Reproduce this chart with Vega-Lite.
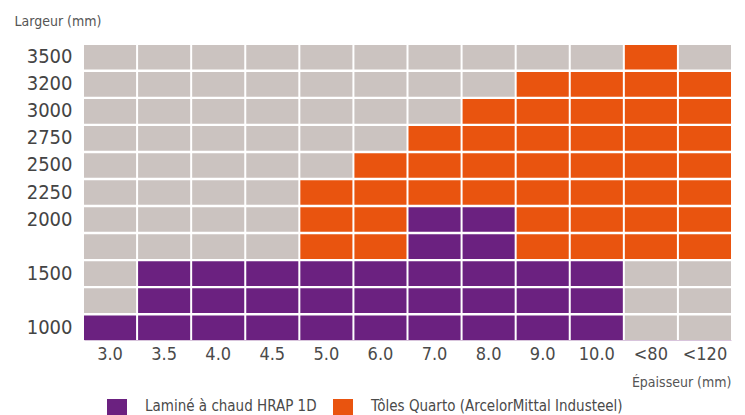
{
  "$schema": "https://vega.github.io/schema/vega-lite/v6.json",
  "autosize": "none",
  "width": 647,
  "height": 295,
  "padding": {"left": 84, "top": 45, "right": 14, "bottom": 75},
  "background": "white",
  "config": {"font": "DejaVu Sans Condensed", "view": {"stroke": null}},
  "data": {"values": [
    {"e":"3.0","l":"3500","p":"N"},{"e":"3.5","l":"3500","p":"N"},{"e":"4.0","l":"3500","p":"N"},{"e":"4.5","l":"3500","p":"N"},{"e":"5.0","l":"3500","p":"N"},{"e":"6.0","l":"3500","p":"N"},{"e":"7.0","l":"3500","p":"N"},{"e":"8.0","l":"3500","p":"N"},{"e":"9.0","l":"3500","p":"N"},{"e":"10.0","l":"3500","p":"N"},{"e":"<80","l":"3500","p":"Q"},{"e":"<120","l":"3500","p":"N"},
    {"e":"3.0","l":"3200","p":"N"},{"e":"3.5","l":"3200","p":"N"},{"e":"4.0","l":"3200","p":"N"},{"e":"4.5","l":"3200","p":"N"},{"e":"5.0","l":"3200","p":"N"},{"e":"6.0","l":"3200","p":"N"},{"e":"7.0","l":"3200","p":"N"},{"e":"8.0","l":"3200","p":"N"},{"e":"9.0","l":"3200","p":"Q"},{"e":"10.0","l":"3200","p":"Q"},{"e":"<80","l":"3200","p":"Q"},{"e":"<120","l":"3200","p":"Q"},
    {"e":"3.0","l":"3000","p":"N"},{"e":"3.5","l":"3000","p":"N"},{"e":"4.0","l":"3000","p":"N"},{"e":"4.5","l":"3000","p":"N"},{"e":"5.0","l":"3000","p":"N"},{"e":"6.0","l":"3000","p":"N"},{"e":"7.0","l":"3000","p":"N"},{"e":"8.0","l":"3000","p":"Q"},{"e":"9.0","l":"3000","p":"Q"},{"e":"10.0","l":"3000","p":"Q"},{"e":"<80","l":"3000","p":"Q"},{"e":"<120","l":"3000","p":"Q"},
    {"e":"3.0","l":"2750","p":"N"},{"e":"3.5","l":"2750","p":"N"},{"e":"4.0","l":"2750","p":"N"},{"e":"4.5","l":"2750","p":"N"},{"e":"5.0","l":"2750","p":"N"},{"e":"6.0","l":"2750","p":"N"},{"e":"7.0","l":"2750","p":"Q"},{"e":"8.0","l":"2750","p":"Q"},{"e":"9.0","l":"2750","p":"Q"},{"e":"10.0","l":"2750","p":"Q"},{"e":"<80","l":"2750","p":"Q"},{"e":"<120","l":"2750","p":"Q"},
    {"e":"3.0","l":"2500","p":"N"},{"e":"3.5","l":"2500","p":"N"},{"e":"4.0","l":"2500","p":"N"},{"e":"4.5","l":"2500","p":"N"},{"e":"5.0","l":"2500","p":"N"},{"e":"6.0","l":"2500","p":"Q"},{"e":"7.0","l":"2500","p":"Q"},{"e":"8.0","l":"2500","p":"Q"},{"e":"9.0","l":"2500","p":"Q"},{"e":"10.0","l":"2500","p":"Q"},{"e":"<80","l":"2500","p":"Q"},{"e":"<120","l":"2500","p":"Q"},
    {"e":"3.0","l":"2250","p":"N"},{"e":"3.5","l":"2250","p":"N"},{"e":"4.0","l":"2250","p":"N"},{"e":"4.5","l":"2250","p":"N"},{"e":"5.0","l":"2250","p":"Q"},{"e":"6.0","l":"2250","p":"Q"},{"e":"7.0","l":"2250","p":"Q"},{"e":"8.0","l":"2250","p":"Q"},{"e":"9.0","l":"2250","p":"Q"},{"e":"10.0","l":"2250","p":"Q"},{"e":"<80","l":"2250","p":"Q"},{"e":"<120","l":"2250","p":"Q"},
    {"e":"3.0","l":"2000","p":"N"},{"e":"3.5","l":"2000","p":"N"},{"e":"4.0","l":"2000","p":"N"},{"e":"4.5","l":"2000","p":"N"},{"e":"5.0","l":"2000","p":"Q"},{"e":"6.0","l":"2000","p":"Q"},{"e":"7.0","l":"2000","p":"H"},{"e":"8.0","l":"2000","p":"H"},{"e":"9.0","l":"2000","p":"Q"},{"e":"10.0","l":"2000","p":"Q"},{"e":"<80","l":"2000","p":"Q"},{"e":"<120","l":"2000","p":"Q"},
    {"e":"3.0","l":"1750","p":"N"},{"e":"3.5","l":"1750","p":"N"},{"e":"4.0","l":"1750","p":"N"},{"e":"4.5","l":"1750","p":"N"},{"e":"5.0","l":"1750","p":"Q"},{"e":"6.0","l":"1750","p":"Q"},{"e":"7.0","l":"1750","p":"H"},{"e":"8.0","l":"1750","p":"H"},{"e":"9.0","l":"1750","p":"Q"},{"e":"10.0","l":"1750","p":"Q"},{"e":"<80","l":"1750","p":"Q"},{"e":"<120","l":"1750","p":"Q"},
    {"e":"3.0","l":"1500","p":"N"},{"e":"3.5","l":"1500","p":"H"},{"e":"4.0","l":"1500","p":"H"},{"e":"4.5","l":"1500","p":"H"},{"e":"5.0","l":"1500","p":"H"},{"e":"6.0","l":"1500","p":"H"},{"e":"7.0","l":"1500","p":"H"},{"e":"8.0","l":"1500","p":"H"},{"e":"9.0","l":"1500","p":"H"},{"e":"10.0","l":"1500","p":"H"},{"e":"<80","l":"1500","p":"N"},{"e":"<120","l":"1500","p":"N"},
    {"e":"3.0","l":"1250","p":"N"},{"e":"3.5","l":"1250","p":"H"},{"e":"4.0","l":"1250","p":"H"},{"e":"4.5","l":"1250","p":"H"},{"e":"5.0","l":"1250","p":"H"},{"e":"6.0","l":"1250","p":"H"},{"e":"7.0","l":"1250","p":"H"},{"e":"8.0","l":"1250","p":"H"},{"e":"9.0","l":"1250","p":"H"},{"e":"10.0","l":"1250","p":"H"},{"e":"<80","l":"1250","p":"N"},{"e":"<120","l":"1250","p":"N"},
    {"e":"3.0","l":"1000","p":"H"},{"e":"3.5","l":"1000","p":"H"},{"e":"4.0","l":"1000","p":"H"},{"e":"4.5","l":"1000","p":"H"},{"e":"5.0","l":"1000","p":"H"},{"e":"6.0","l":"1000","p":"H"},{"e":"7.0","l":"1000","p":"H"},{"e":"8.0","l":"1000","p":"H"},{"e":"9.0","l":"1000","p":"H"},{"e":"10.0","l":"1000","p":"H"},{"e":"<80","l":"1000","p":"N"},{"e":"<120","l":"1000","p":"N"}
  ]},
  "mark": {"type": "rect"},
  "encoding": {
    "x": {
      "field": "e", "type": "nominal",
      "sort": ["3.0","3.5","4.0","4.5","5.0","6.0","7.0","8.0","9.0","10.0","<80","<120"],
      "scale": {"paddingInner": 0.037, "paddingOuter": 0},
      "axis": {
        "labelAngle": 0, "labelFontSize": 18, "labelColor": "#4a4a4a", "labelPadding": 5,
        "ticks": false, "domain": true, "domainColor": "#d8c4dc", "domainWidth": 1,
        "title": "Épaisseur (mm)", "titleFontSize": 14, "titleFontWeight": "normal", "titleColor": "#555",
        "titleX": 647, "titleY": 46, "titleAlign": "right", "titleBaseline": "alphabetic"
      }
    },
    "y": {
      "field": "l", "type": "nominal",
      "sort": ["3500","3200","3000","2750","2500","2250","2000","1750","1500","1250","1000"],
      "scale": {"paddingInner": 0.09, "paddingOuter": 0},
      "axis": {
        "labelExpr": "datum.value == '1750' || datum.value == '1250' ? '' : datum.value",
        "labelFontSize": 20, "labelColor": "#444", "labelPadding": 12,
        "ticks": false, "domain": false,
        "title": "Largeur (mm)", "titleFontSize": 14, "titleFontWeight": "normal", "titleColor": "#555",
        "titleAngle": 0, "titleX": -70, "titleY": -20, "titleAlign": "left", "titleBaseline": "alphabetic"
      }
    },
    "color": {
      "field": "p", "type": "nominal",
      "scale": {"domain": ["H","Q","N"], "range": ["#6b2180","#e9540f","#cbc3c0"]},
      "legend": {
        "values": ["H","Q"],
        "labelExpr": "datum.value == 'H' ? 'Laminé à chaud HRAP 1D' : 'Tôles Quarto (ArcelorMittal Industeel)'",
        "orient": "none", "legendX": 23, "legendY": 354, "direction": "horizontal",
        "title": null, "padding": 0, "symbolType": "square", "symbolSize": 400, "symbolStrokeWidth": 0,
        "symbolOpacity": 1,
        "labelFontSize": 15, "labelColor": "#4a4a4a", "labelOffset": 18, "columnPadding": 16, "labelLimit": 400,
        "encode": {"labels": {"update": {"dy": {"value": -3}}}}
      }
    }
  }
}
